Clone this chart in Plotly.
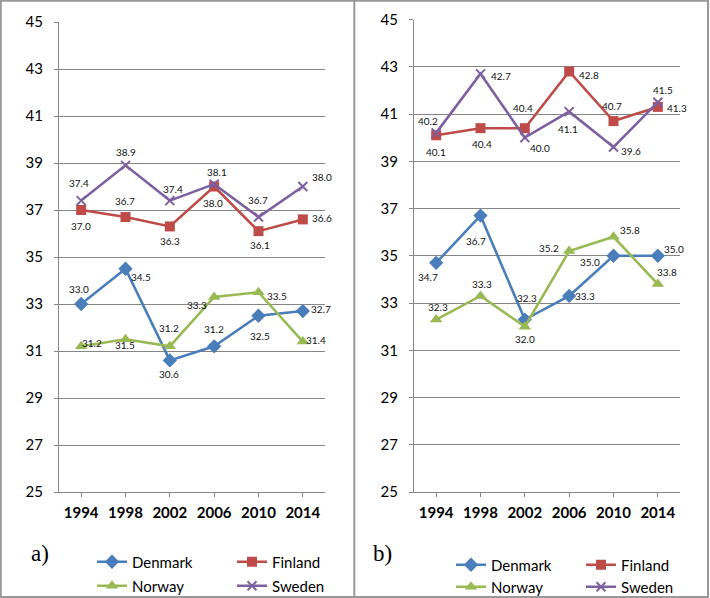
import plotly.graph_objects as go

years = ["1994", "1998", "2002", "2006", "2010", "2014"]
countries = ["Denmark", "Finland", "Norway", "Sweden"]

# Panel a)
a_denmark = [33.0, 34.5, 30.6, 31.2, 32.5, 32.7]
a_finland = [37.0, 36.7, 36.3, 38.0, 36.1, 36.6]
a_norway = [31.2, 31.5, 31.2, 33.3, 33.5, 31.4]
a_sweden = [37.4, 38.9, 37.4, 38.1, 36.7, 38.0]

# Panel b)
b_denmark = [34.7, 36.7, 32.3, 33.3, 35.0, 35.0]
b_finland = [40.1, 40.4, 40.4, 42.8, 40.7, 41.3]
b_norway = [32.3, 33.3, 32.0, 35.2, 35.8, 33.8]
b_sweden = [40.2, 42.7, 40.0, 41.1, 39.6, 41.5]

y_ticks = [25, 27, 29, 31, 33, 35, 37, 39, 41, 43, 45]

colors = {"Denmark": "#4A7EBB", "Finland": "#BE4B48", "Norway": "#98B954", "Sweden": "#7D60A0"}
markers = {
    "Denmark": dict(symbol="diamond", size=11),
    "Finland": dict(symbol="square", size=10),
    "Norway": dict(symbol="triangle-up", size=11),
    "Sweden": dict(symbol="x-thin", size=9),
}

# data-label pixel offsets (dx right, dy up) per point
a_off = {
    "Denmark": [(-2, 15), (15, -8), (-1, -14), (0, 17), (1, -20), (18, 2)],
    "Finland": [(0, -16), (-1, 16), (0, -15), (-1, -16), (1, -14), (19, 1)],
    "Norway": [(11, 3), (-1, -6), (-1, 18), (-17, -8), (18, -4), (13, 2)],
    "Sweden": [(-2, 18), (0, 13), (3, 12), (3, 12), (-1, 17), (19, 10)],
}
b_off = {
    "Denmark": [(-8, -14), (-5, -25), (2, 22), (16, 0), (-24, -6), (16, 7)],
    "Finland": [(0, -17), (1, -16), (-2, 20), (20, -4), (-2, 15), (19, -1)],
    "Norway": [(2, 13), (1, 12), (0, -12), (-20, 3), (16, 7), (9, 12)],
    "Sweden": [(-8, 12), (20, -2), (15, -10), (-1, -17), (17, -4), (5, 12)],
}

panels = [
    ("x", "y", {"Denmark": a_denmark, "Finland": a_finland, "Norway": a_norway, "Sweden": a_sweden}, a_off, ("legend", "legend2")),
    ("x2", "y2", {"Denmark": b_denmark, "Finland": b_finland, "Norway": b_norway, "Sweden": b_sweden}, b_off, ("legend3", "legend4")),
]

fig = go.Figure()
LABEL_FONT = dict(family="Lato, sans-serif", size=10, color="#111")
annotations = []

for xa, ya, data, off, legs in panels:
    for i, c in enumerate(countries):
        m = dict(markers[c], color=colors[c])
        if c == "Sweden":
            m["line"] = dict(color=colors[c], width=2)
        fig.add_trace(go.Scatter(
            x=years, y=data[c], name=c, mode="lines+markers",
            line=dict(color=colors[c], width=2.6), marker=m,
            xaxis=xa, yaxis=ya, legend=legs[0] if i < 2 else legs[1],
            cliponaxis=False,
        ))
    for c in countries:
        for k, (v, (dx, dy)) in enumerate(zip(data[c], off[c])):
            annotations.append(dict(
                x=k, y=v, xref=xa, yref=ya, text=f"{v:.1f}", showarrow=False,
                xshift=dx, yshift=dy, font=LABEL_FONT,
            ))

W, H = 710, 598
def px(x):
    return x / W
def py(y):
    return (H - y) / H

axis_common = dict(showline=True, linecolor="#868686", linewidth=1.2, mirror=False, zeroline=False, automargin=False)
xcommon = dict(axis_common, type="category", ticks="outside", ticklen=4, tickcolor="#868686", tickangle=0,
               tickfont=dict(family="Lato, sans-serif", size=15, color="#000", weight="bold"),
               showgrid=False, range=[-0.5, 5.5], ticklabelstandoff=3)
ycommon = dict(axis_common, range=[25, 45], tickvals=y_ticks, ticks="outside", ticklen=4, tickcolor="#868686",
               showgrid=True, gridcolor="#868686", gridwidth=1.2,
               tickfont=dict(family="Lato, sans-serif", size=15, color="#000"), ticklabelstandoff=8)

leg_common = dict(orientation="h", xanchor="left", yanchor="middle", entrywidthmode="pixels",
                  font=dict(family="Lato, sans-serif", size=15, color="#000"), bgcolor="rgba(0,0,0,0)",
                  itemwidth=30, tracegroupgap=0)

annotations += [
    dict(text="a)", xref="paper", yref="paper", x=px(29), y=py(568), showarrow=False,
         font=dict(family="Liberation Serif, serif", size=23, color="#000")),
    dict(text="b)", xref="paper", yref="paper", x=px(383), y=py(568), showarrow=False,
         font=dict(family="Liberation Serif, serif", size=23, color="#000")),
]

fig.update_layout(
    width=W, height=H, margin=dict(l=0, r=0, t=0, b=0, autoexpand=False),
    paper_bgcolor="white", plot_bgcolor="white",
    xaxis=dict(xcommon, domain=[px(59), px(325)], anchor="y"),
    yaxis=dict(ycommon, domain=[py(492), py(22)], anchor="x"),
    xaxis2=dict(xcommon, domain=[px(414), px(680)], anchor="y2"),
    yaxis2=dict(ycommon, domain=[py(492), py(19.5)], anchor="x2"),
    legend=dict(leg_common, entrywidth=95, x=px(92), y=py(562)),
    legend2=dict(leg_common, entrywidth=95, x=px(92), y=py(586)),
    legend3=dict(leg_common, entrywidth=85, x=px(451), y=py(565)),
    legend4=dict(leg_common, entrywidth=85, x=px(451), y=py(587)),
    shapes=[
        dict(type="rect", xref="paper", yref="paper", x0=px(0.8), x1=px(708), y0=py(597), y1=py(0.8),
             line=dict(color="#999999", width=2)),
        dict(type="line", xref="paper", yref="paper", x0=px(354.3), x1=px(354.3), y0=py(597), y1=py(0.8),
             line=dict(color="#999999", width=2)),
    ],
    annotations=annotations,
    showlegend=True,
)

fig.write_html("out.html", config={"displayModeBar": False},
               post_script="document.body.style.margin='0';document.body.style.overflow='hidden';")
